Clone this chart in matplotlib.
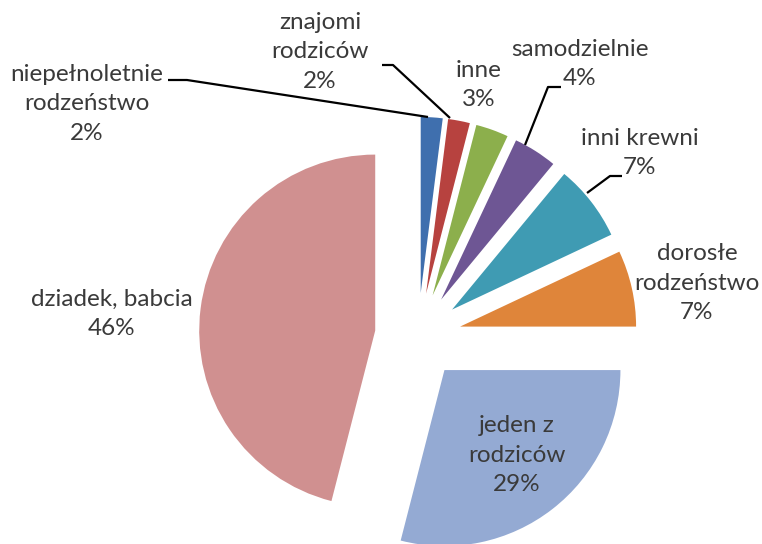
import matplotlib
matplotlib.use("Agg")
import matplotlib.pyplot as plt

plt.rcParams['font.family'] = ['Lato', 'DejaVu Sans']

labels = ['niepełnoletnie\nrodzeństwo', 'znajomi\nrodziców', 'inne', 'samodzielnie',
          'inni krewni', 'dorosłe\nrodzeństwo', 'jeden z\nrodziców', 'dziadek, babcia']
values = [2, 2, 3, 4, 7, 7, 29, 46]
colors = ['#3F6FAE', '#B7423F', '#8CAF4C', '#6E5694', '#3F9BB3', '#DF853A', '#94AAD3', '#D09090']

# pixel layout of the original picture
W, H = 762, 544
cx, cy, R = 418, 336, 176

def px(x, y):
    return (x - cx) / R, (cy - y) / R

# label block centres (px)
label_pos = [(87, 104), (320, 52), (479, 85), (580, 64), (640, 153), (697, 283), (517, 455), (112, 314)]
# leader lines (px)
leaders = {
    0: [(168, 80), (187, 80), (428, 117)],
    1: [(382, 65), (393, 65), (450, 118)],
    3: [(561, 87), (548, 87), (525, 145)],
    4: [(622, 176), (610, 176), (587, 193)],
}

fig = plt.figure(figsize=(W / 100, H / 100), dpi=100)
ax = fig.add_axes([0, 0, 1, 1])
ax.pie(values, colors=colors, startangle=90, counterclock=False,
       explode=[0.245] * len(values), radius=1, center=(0, 0),
       wedgeprops=dict(linewidth=0))
ax.set_xlim(-cx / R, (W - cx) / R)
ax.set_ylim(-(H - cy) / R, cy / R)
ax.set_aspect('auto')
ax.axis('off')

for i, (lab, v) in enumerate(zip(labels, values)):
    x, y = px(*label_pos[i])
    ax.text(x, y, f'{lab}\n{v}%', ha='center', va='center', fontsize=17.5,
            color='#3a3a3a', linespacing=1.48, multialignment='center')

for i, pts in leaders.items():
    xs, ys = zip(*[px(*p) for p in pts])
    ax.plot(xs, ys, color='black', linewidth=1.6, solid_capstyle='butt')

fig.savefig('out.png', dpi=100, facecolor='white')
